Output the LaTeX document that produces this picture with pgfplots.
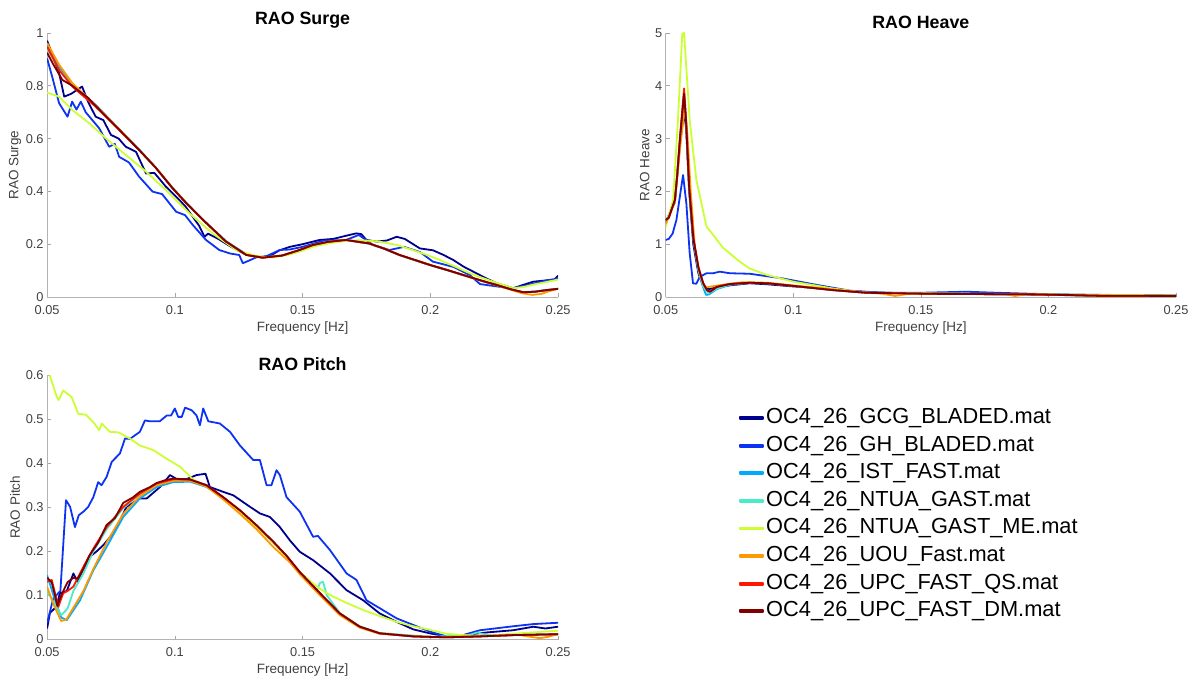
\documentclass[border=0pt]{standalone}
\usepackage{pgfplots}
\pgfplotsset{compat=1.18}
\usepackage{fontspec}
\setmainfont{Liberation Sans}
\definecolor{cGCG}{rgb}{0,0,0.55}
\definecolor{cGH}{rgb}{0.05,0.2,0.95}
\definecolor{cIST}{rgb}{0,0.67,1}
\definecolor{cNT}{rgb}{0.3,0.92,0.78}
\definecolor{cME}{rgb}{0.8,1,0.2}
\definecolor{cUOU}{rgb}{1,0.6,0}
\definecolor{cQS}{rgb}{1,0.1,0}
\definecolor{cDM}{rgb}{0.5,0,0}
\definecolor{tickgray}{rgb}{0.25,0.25,0.25}
\pgfplotsset{
  raostyle/.style={
    scale only axis, width=511pt, height=264pt,
    xmin=0.05, xmax=0.25,
    xtick={0.05,0.1,0.15,0.2,0.25},
    xticklabels={0.05,0.1,0.15,0.2,0.25},
    axis lines=left, axis line style={-, draw=gray!60, line width=0.6pt},
    tick align=inside, major tick length=4pt,
    tick style={draw=gray!70, line width=0.6pt},
    ticklabel style={font=\fontsize{12.8}{14}\selectfont, text=tickgray},
    xticklabel style={yshift=-5pt},
    label style={font=\fontsize{13.5}{15}\selectfont, text=tickgray},
    xlabel={Frequency [Hz]},
    xlabel style={at={(axis description cs:0.5,0)}, anchor=center, yshift=-31pt},
    title style={font=\fontsize{17.8}{20}\bfseries\selectfont, text=black, yshift=-5pt},
    clip=true,
  },
  sGCG/.style={color=cGCG, line width=1.8pt, line join=round},
  sGH/.style={color=cGH, line width=1.8pt, line join=round},
  sIST/.style={color=cIST, line width=1.8pt, line join=round},
  sNT/.style={color=cNT, line width=1.8pt, line join=round},
  sME/.style={color=cME, line width=1.8pt, line join=round},
  sUOU/.style={color=cUOU, line width=1.8pt, line join=round},
  sQS/.style={color=cQS, line width=1.8pt, line join=round},
  sDM/.style={color=cDM, line width=1.8pt, line join=round},
}
\begin{document}
\begin{tikzpicture}
\path[use as bounding box] (0,0) rectangle (1196pt,681pt);
% ---------------- RAO Surge ----------------
\begin{axis}[raostyle, at={(47.1pt,384pt)}, anchor=south west,
  ymin=0, ymax=1, ytick={0,0.2,0.4,0.6,0.8,1}, yticklabels={0,0.2,0.4,0.6,0.8,1},
  title={RAO Surge}, ylabel={RAO Surge},
  ylabel style={at={(axis description cs:0,0.5)}, anchor=center, yshift=32pt}]
\addplot[sGCG] coordinates {(0.05,0.971)(0.052,0.92)(0.0547,0.848)(0.0567,0.759)(0.0595,0.77)(0.0637,0.797)(0.066,0.74)(0.069,0.683)(0.072,0.67)(0.075,0.614)(0.078,0.6)(0.0808,0.569)(0.0848,0.55)(0.0887,0.468)(0.092,0.47)(0.0965,0.418)(0.1005,0.38)(0.104,0.345)(0.107,0.304)(0.1095,0.27)(0.1116,0.228)(0.113,0.24)(0.117,0.22)(0.122,0.19)(0.128,0.16)(0.134,0.15)(0.138,0.16)(0.141,0.177)(0.145,0.19)(0.15,0.2)(0.1566,0.216)(0.162,0.22)(0.167,0.232)(0.171,0.241)(0.173,0.238)(0.175,0.216)(0.179,0.21)(0.183,0.214)(0.1868,0.228)(0.19,0.22)(0.1959,0.184)(0.201,0.177)(0.205,0.16)(0.209,0.14)(0.213,0.115)(0.218,0.09)(0.222,0.07)(0.226,0.052)(0.2325,0.033)(0.236,0.045)(0.2403,0.058)(0.2455,0.063)(0.2485,0.065)(0.25,0.081)};
\addplot[sGH] coordinates {(0.05,0.904)(0.052,0.834)(0.0547,0.734)(0.058,0.683)(0.0598,0.74)(0.0615,0.71)(0.0632,0.74)(0.0651,0.70)(0.0704,0.639)(0.0743,0.569)(0.0765,0.58)(0.0782,0.531)(0.082,0.51)(0.086,0.456)(0.0913,0.399)(0.095,0.39)(0.1005,0.323)(0.104,0.31)(0.107,0.273)(0.1122,0.216)(0.1174,0.178)(0.1215,0.165)(0.1252,0.159)(0.1266,0.128)(0.1295,0.14)(0.1318,0.15)(0.136,0.155)(0.141,0.178)(0.145,0.18)(0.15,0.19)(0.158,0.213)(0.167,0.216)(0.172,0.235)(0.1776,0.197)(0.184,0.178)(0.1897,0.19)(0.196,0.17)(0.201,0.134)(0.209,0.114)(0.2155,0.083)(0.2194,0.049)(0.226,0.04)(0.232,0.033)(0.238,0.045)(0.2455,0.063)(0.25,0.07)};
\addplot[sIST] coordinates {(0.05,0.955)(0.0547,0.87)(0.0599,0.805)(0.069,0.728)(0.0782,0.636)(0.086,0.56)(0.0925,0.49)(0.0991,0.414)(0.105,0.352)(0.111,0.293)(0.12,0.212)(0.128,0.162)(0.1344,0.15)(0.142,0.157)(0.1488,0.177)(0.154,0.196)(0.16,0.208)(0.167,0.215)(0.176,0.202)(0.182,0.182)(0.188,0.158)(0.194,0.139)(0.2,0.12)(0.207,0.1)(0.213,0.082)(0.22,0.061)(0.226,0.044)(0.232,0.027)(0.2364,0.018)(0.241,0.021)(0.2455,0.027)(0.25,0.031)};
\addplot[sNT] coordinates {(0.05,0.94)(0.0547,0.862)(0.0599,0.8)(0.069,0.722)(0.0782,0.634)(0.086,0.557)(0.0925,0.489)(0.0991,0.412)(0.105,0.35)(0.111,0.292)(0.12,0.21)(0.128,0.16)(0.1344,0.149)(0.142,0.157)(0.1488,0.178)(0.154,0.197)(0.16,0.209)(0.167,0.216)(0.176,0.203)(0.182,0.183)(0.188,0.159)(0.194,0.14)(0.2,0.121)(0.207,0.101)(0.213,0.083)(0.22,0.062)(0.226,0.045)(0.232,0.028)(0.2364,0.018)(0.241,0.02)(0.2455,0.026)(0.25,0.031)};
\addplot[sME] coordinates {(0.05,0.774)(0.0547,0.759)(0.0599,0.708)(0.0665,0.658)(0.073,0.601)(0.0808,0.538)(0.0887,0.475)(0.0965,0.405)(0.1057,0.317)(0.1148,0.241)(0.124,0.178)(0.1318,0.155)(0.1383,0.150)(0.1445,0.16)(0.1488,0.172)(0.154,0.19)(0.16,0.203)(0.167,0.213)(0.173,0.215)(0.18,0.21)(0.187,0.197)(0.193,0.178)(0.1985,0.16)(0.2037,0.14)(0.209,0.118)(0.214,0.096)(0.219,0.077)(0.2246,0.058)(0.2325,0.033)(0.2365,0.038)(0.2403,0.047)(0.245,0.056)(0.25,0.066)};
\addplot[sUOU] coordinates {(0.05,0.962)(0.0547,0.88)(0.0599,0.81)(0.069,0.726)(0.0782,0.636)(0.086,0.558)(0.0925,0.49)(0.0991,0.413)(0.105,0.351)(0.111,0.292)(0.12,0.21)(0.128,0.16)(0.1344,0.149)(0.142,0.157)(0.1488,0.178)(0.154,0.197)(0.16,0.209)(0.167,0.216)(0.176,0.203)(0.182,0.183)(0.188,0.159)(0.194,0.14)(0.2,0.121)(0.207,0.101)(0.213,0.083)(0.22,0.062)(0.226,0.044)(0.232,0.026)(0.236,0.014)(0.240,0.008)(0.2435,0.012)(0.2465,0.022)(0.25,0.031)};
\addplot[sQS] coordinates {(0.05,0.948)(0.0547,0.86)(0.0599,0.797)(0.069,0.721)(0.0782,0.633)(0.086,0.557)(0.0925,0.49)(0.0991,0.412)(0.105,0.35)(0.111,0.292)(0.12,0.21)(0.128,0.159)(0.1344,0.149)(0.142,0.157)(0.1488,0.178)(0.154,0.197)(0.16,0.209)(0.167,0.216)(0.176,0.203)(0.182,0.183)(0.188,0.159)(0.194,0.14)(0.2,0.121)(0.207,0.101)(0.213,0.083)(0.22,0.062)(0.226,0.045)(0.232,0.028)(0.2364,0.018)(0.241,0.02)(0.2455,0.026)(0.25,0.031)};
\addplot[sDM] coordinates {(0.05,0.925)(0.0525,0.88)(0.056,0.822)(0.0599,0.8)(0.0625,0.78)(0.066,0.755)(0.069,0.724)(0.0782,0.634)(0.086,0.557)(0.0925,0.49)(0.0991,0.412)(0.105,0.35)(0.111,0.292)(0.12,0.21)(0.128,0.159)(0.1344,0.149)(0.142,0.157)(0.1488,0.178)(0.154,0.197)(0.16,0.209)(0.167,0.216)(0.176,0.203)(0.182,0.183)(0.188,0.159)(0.194,0.14)(0.2,0.121)(0.207,0.101)(0.213,0.083)(0.22,0.062)(0.226,0.045)(0.232,0.028)(0.2364,0.018)(0.241,0.02)(0.2455,0.026)(0.25,0.031)};
\end{axis}
% ---------------- RAO Heave ----------------
\begin{axis}[raostyle, at={(665.7pt,384pt)}, anchor=south west, width=510.3pt,
  ymin=0, ymax=5, ytick={0,1,2,3,4,5}, yticklabels={0,1,2,3,4,5},
  title={RAO Heave}, ylabel={RAO Heave},
  ylabel style={at={(axis description cs:0,0.5)}, anchor=center, yshift=21pt}]
\addplot[sGCG] coordinates {(0.05,1.42)(0.0536,1.8)(0.0556,2.9)(0.0572,3.5)(0.058,3.2)(0.0592,2.0)(0.0608,1.0)(0.0628,0.45)(0.0647,0.2)(0.067,0.15)(0.07,0.18)(0.075,0.22)(0.083,0.26)(0.09,0.24)(0.1,0.2)(0.11,0.17)(0.125,0.1)(0.15,0.06)(0.17,0.06)(0.2,0.04)(0.25,0.03)};
\addplot[sGH] coordinates {(0.05,1.08)(0.0512,1.1)(0.0527,1.2)(0.0542,1.46)(0.0568,2.31)(0.0581,1.77)(0.0594,0.83)(0.0607,0.26)(0.062,0.25)(0.0633,0.38)(0.066,0.45)(0.0686,0.45)(0.0712,0.48)(0.0751,0.45)(0.083,0.44)(0.096,0.35)(0.1091,0.23)(0.1222,0.12)(0.1353,0.08)(0.15,0.08)(0.1679,0.1)(0.18,0.08)(0.194,0.06)(0.22,0.04)(0.25,0.03)};
\addplot[sIST] coordinates {(0.05,1.40)(0.0536,1.8)(0.0556,2.95)(0.0572,3.85)(0.058,3.3)(0.0592,2.05)(0.0608,1.1)(0.0628,0.5)(0.0647,0.18)(0.0658,0.04)(0.067,0.05)(0.07,0.15)(0.0752,0.23)(0.083,0.27)(0.09,0.26)(0.1,0.21)(0.1156,0.13)(0.1287,0.08)(0.155,0.06)(0.194,0.05)(0.2203,0.02)(0.25,0.02)};
\addplot[sNT] coordinates {(0.05,1.42)(0.0536,1.82)(0.0556,3.0)(0.0572,3.85)(0.058,3.3)(0.0592,2.07)(0.0608,1.12)(0.0628,0.52)(0.0647,0.2)(0.0667,0.07)(0.07,0.16)(0.0752,0.24)(0.083,0.27)(0.09,0.26)(0.1,0.21)(0.1156,0.13)(0.1287,0.08)(0.155,0.06)(0.194,0.05)(0.2203,0.02)(0.25,0.02)};
\addplot[sME] coordinates {(0.05,1.33)(0.0529,1.84)(0.0548,3.35)(0.0565,4.99)(0.0572,5.0)(0.0594,3.35)(0.062,2.22)(0.066,1.33)(0.0674,1.25)(0.0725,0.93)(0.079,0.67)(0.0829,0.54)(0.0895,0.42)(0.1,0.29)(0.1156,0.16)(0.1287,0.08)(0.15,0.07)(0.2,0.05)(0.25,0.03)};
\addplot[sUOU] coordinates {(0.05,1.38)(0.0536,1.8)(0.0556,2.8)(0.0574,3.6)(0.0585,3.1)(0.0598,2.0)(0.0615,0.9)(0.0635,0.4)(0.0655,0.18)(0.068,0.2)(0.072,0.23)(0.08,0.28)(0.09,0.27)(0.1,0.22)(0.125,0.1)(0.135,0.06)(0.14,0.02)(0.145,0.06)(0.16,0.06)(0.183,0.05)(0.187,0.02)(0.191,0.05)(0.2,0.04)(0.25,0.02)};
\addplot[sQS] coordinates {(0.05,1.46)(0.0512,1.5)(0.0536,1.84)(0.0545,2.3)(0.0556,3.04)(0.0572,3.95)(0.058,3.35)(0.0592,2.09)(0.0608,1.14)(0.0628,0.57)(0.0647,0.26)(0.0662,0.13)(0.0674,0.10)(0.07,0.195)(0.0752,0.25)(0.083,0.27)(0.09,0.26)(0.1,0.21)(0.1156,0.13)(0.1287,0.08)(0.155,0.06)(0.194,0.05)(0.2203,0.02)(0.25,0.02)};
\addplot[sDM] coordinates {(0.05,1.46)(0.0512,1.5)(0.0536,1.84)(0.0545,2.3)(0.0556,3.0)(0.0572,3.85)(0.058,3.3)(0.0592,2.07)(0.0608,1.12)(0.0628,0.56)(0.0647,0.26)(0.0662,0.13)(0.0674,0.10)(0.07,0.19)(0.0752,0.245)(0.083,0.27)(0.09,0.26)(0.1,0.21)(0.1156,0.13)(0.1287,0.08)(0.155,0.06)(0.194,0.05)(0.2203,0.025)(0.25,0.02)};
\end{axis}
% ---------------- RAO Pitch ----------------
\begin{axis}[raostyle, at={(47.1pt,41.5pt)}, anchor=south west, height=264.5pt,
  ymin=0, ymax=0.6, ytick={0,0.1,0.2,0.3,0.4,0.5,0.6}, yticklabels={0,0.1,0.2,0.3,0.4,0.5,0.6},
  title={RAO Pitch}, ylabel={RAO Pitch},
  ylabel style={at={(axis description cs:0,0.5)}, anchor=center, yshift=32pt},
  legend style={at={(1.3535,0.876)}, anchor=north west, draw=none, fill=none,
    inner sep=0pt, font=\fontsize{21.8}{26}\selectfont, row sep=7.6pt, column sep=2.5pt,
    nodes={inner sep=0pt, text height=15.5pt, text depth=4.5pt}},
  legend cell align=left,
  legend image code/.code={\fill[#1] (0pt,-1pt) rectangle (23pt,1pt);}]
\addplot[sGCG] coordinates {(0.05,0.025)(0.0511,0.06)(0.0537,0.075)(0.055,0.105)(0.0577,0.11)(0.0603,0.15)(0.062,0.13)(0.0642,0.161)(0.0668,0.188)(0.0694,0.2)(0.072,0.214)(0.0746,0.232)(0.0772,0.255)(0.0811,0.301)(0.0863,0.32)(0.089,0.32)(0.0942,0.346)(0.0981,0.373)(0.1007,0.364)(0.1046,0.364)(0.1085,0.373)(0.112,0.376)(0.1137,0.346)(0.1189,0.335)(0.1229,0.327)(0.1294,0.301)(0.1333,0.286)(0.1372,0.278)(0.1411,0.255)(0.145,0.225)(0.1489,0.199)(0.1541,0.18)(0.1607,0.15)(0.1672,0.112)(0.1737,0.089)(0.1802,0.059)(0.1868,0.04)(0.1933,0.023)(0.1998,0.014)(0.2063,0.007)(0.2128,0.01)(0.222,0.016)(0.2324,0.021)(0.2403,0.029)(0.245,0.025)(0.25,0.029)};
\addlegendentry{OC4\_26\_GCG\_BLADED.mat}
\addplot[sGH] coordinates {(0.05,0.037)(0.0524,0.093)(0.0552,0.11)(0.0574,0.316)(0.059,0.301)(0.0609,0.255)(0.0624,0.282)(0.0642,0.29)(0.0661,0.301)(0.0681,0.323)(0.07,0.357)(0.0713,0.35)(0.0733,0.369)(0.0753,0.403)(0.0785,0.422)(0.0805,0.456)(0.0824,0.455)(0.0863,0.471)(0.0883,0.497)(0.0902,0.495)(0.0941,0.495)(0.0968,0.508)(0.0985,0.508)(0.1,0.524)(0.1013,0.505)(0.1027,0.505)(0.104,0.526)(0.1066,0.52)(0.1085,0.508)(0.1098,0.486)(0.1111,0.524)(0.1131,0.495)(0.1176,0.49)(0.1216,0.471)(0.1255,0.44)(0.1307,0.407)(0.1333,0.407)(0.1359,0.35)(0.1378,0.35)(0.1398,0.384)(0.1411,0.373)(0.1437,0.323)(0.1489,0.29)(0.1541,0.233)(0.156,0.235)(0.1607,0.203)(0.1672,0.15)(0.1711,0.135)(0.175,0.089)(0.1802,0.071)(0.1868,0.048)(0.1933,0.033)(0.1998,0.018)(0.2063,0.007)(0.2128,0.01)(0.2194,0.021)(0.2324,0.03)(0.2403,0.035)(0.25,0.038)};
\addlegendentry{OC4\_26\_GH\_BLADED.mat}
\addplot[sIST] coordinates {(0.05,0.146)(0.0525,0.1)(0.0555,0.05)(0.0577,0.044)(0.0629,0.089)(0.0681,0.157)(0.0733,0.21)(0.0798,0.278)(0.0863,0.32)(0.0929,0.346)(0.0994,0.357)(0.1059,0.358)(0.1124,0.346)(0.1189,0.321)(0.1255,0.291)(0.132,0.257)(0.1385,0.22)(0.1437,0.189)(0.1489,0.152)(0.1568,0.104)(0.1646,0.058)(0.1724,0.028)(0.1802,0.014)(0.1933,0.007)(0.2063,0.005)(0.2194,0.007)(0.2324,0.01)(0.25,0.012)};
\addlegendentry{OC4\_26\_IST\_FAST.mat}
\addplot[sNT] coordinates {(0.05,0.11)(0.053,0.08)(0.0555,0.055)(0.058,0.07)(0.0603,0.11)(0.0642,0.15)(0.0681,0.2)(0.0733,0.25)(0.0798,0.298)(0.0863,0.33)(0.0929,0.355)(0.0994,0.362)(0.1059,0.362)(0.1124,0.349)(0.1189,0.322)(0.1255,0.292)(0.132,0.258)(0.1385,0.221)(0.1437,0.19)(0.1489,0.152)(0.1555,0.11)(0.1568,0.128)(0.158,0.131)(0.1595,0.1)(0.1646,0.06)(0.1724,0.03)(0.18,0.015)(0.2,0.006)(0.215,0.01)(0.2185,0.016)(0.222,0.01)(0.25,0.012)};
\addlegendentry{OC4\_26\_NTUA\_GAST.mat}
\addplot[sME] coordinates {(0.051,0.6)(0.0538,0.55)(0.0545,0.543)(0.0563,0.565)(0.0596,0.55)(0.0622,0.512)(0.0651,0.51)(0.0681,0.493)(0.0704,0.475)(0.0714,0.49)(0.0746,0.471)(0.0779,0.47)(0.0824,0.456)(0.0863,0.44)(0.0915,0.43)(0.0968,0.41)(0.102,0.392)(0.1072,0.363)(0.1124,0.347)(0.1189,0.32)(0.1255,0.29)(0.132,0.256)(0.1385,0.22)(0.145,0.179)(0.1489,0.153)(0.1535,0.13)(0.1568,0.115)(0.1607,0.101)(0.1672,0.083)(0.1737,0.067)(0.1802,0.053)(0.1868,0.04)(0.1933,0.03)(0.1998,0.022)(0.2063,0.013)(0.2194,0.007)(0.2324,0.013)(0.25,0.02)};
\addlegendentry{OC4\_26\_NTUA\_GAST\_ME.mat}
\addplot[sUOU] coordinates {(0.05,0.12)(0.0525,0.08)(0.0555,0.042)(0.0575,0.045)(0.0642,0.11)(0.0681,0.16)(0.0733,0.22)(0.0798,0.285)(0.0863,0.325)(0.0929,0.35)(0.0994,0.36)(0.1059,0.36)(0.1124,0.347)(0.1189,0.318)(0.1255,0.285)(0.132,0.25)(0.1385,0.21)(0.145,0.175)(0.1489,0.148)(0.1568,0.1)(0.1646,0.055)(0.1724,0.027)(0.18,0.013)(0.2,0.005)(0.235,0.01)(0.2405,0.005)(0.2428,0.003)(0.246,0.006)(0.25,0.012)};
\addlegendentry{OC4\_26\_UOU\_Fast.mat}
\addplot[sQS] coordinates {(0.05,0.131)(0.0518,0.135)(0.0531,0.105)(0.0544,0.074)(0.0563,0.105)(0.058,0.11)(0.0603,0.12)(0.0642,0.165)(0.0681,0.206)(0.0733,0.255)(0.0798,0.301)(0.0863,0.331)(0.0929,0.354)(0.0994,0.3635)(0.1059,0.363)(0.1124,0.35)(0.1189,0.323)(0.1255,0.293)(0.132,0.259)(0.1385,0.222)(0.1437,0.19)(0.1489,0.153)(0.1568,0.105)(0.1646,0.059)(0.1724,0.029)(0.1802,0.014)(0.1933,0.007)(0.2063,0.005)(0.2194,0.007)(0.2324,0.01)(0.25,0.012)};
\addlegendentry{OC4\_26\_UPC\_FAST\_QS.mat}
\addplot[sDM] coordinates {(0.05,0.14)(0.0518,0.13)(0.0531,0.1)(0.054,0.076)(0.0555,0.1)(0.058,0.13)(0.0603,0.14)(0.062,0.138)(0.0642,0.16)(0.0665,0.19)(0.07,0.22)(0.0733,0.26)(0.0765,0.275)(0.0798,0.31)(0.0835,0.322)(0.0863,0.335)(0.09,0.345)(0.0929,0.355)(0.0965,0.362)(0.0994,0.365)(0.1059,0.363)(0.1124,0.35)(0.1189,0.323)(0.1255,0.293)(0.132,0.259)(0.1385,0.222)(0.1437,0.19)(0.1489,0.153)(0.1568,0.105)(0.1646,0.059)(0.1724,0.029)(0.1802,0.014)(0.1933,0.007)(0.2063,0.005)(0.2194,0.007)(0.2324,0.01)(0.25,0.012)};
\addlegendentry{OC4\_26\_UPC\_FAST\_DM.mat}
\end{axis}
\end{tikzpicture}
\end{document}
